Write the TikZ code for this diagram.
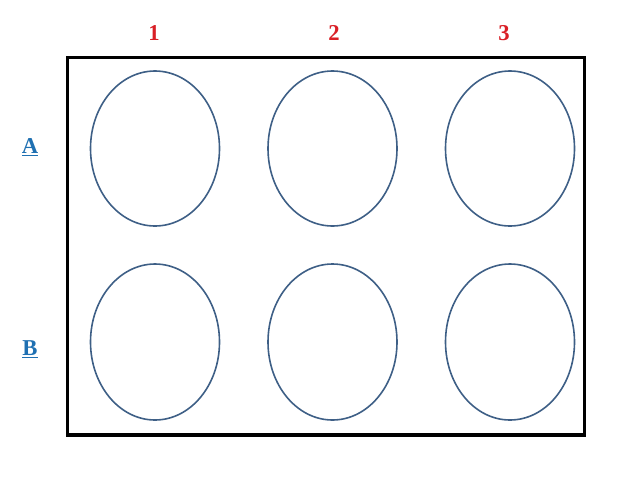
\documentclass[tikz,border=0pt]{standalone}
\usepackage{fontspec}
\setmainfont{Liberation Serif}
\definecolor{wellblue}{HTML}{3E5F86}
\definecolor{rowblue}{HTML}{1F70B2}
\definecolor{colred}{HTML}{D91F26}
\begin{document}
		\begin{tikzpicture}[x=0.75pt, y=-0.75pt]
				\useasboundingbox (0,0) rectangle (638,479);
				\draw[line width=2.6pt] (67.5,57.5) rectangle (584.5,435);
				\draw[wellblue, line width=1.2pt] (155,148.5) ellipse (64.5 and 77.5);
				\draw[wellblue, line width=1.2pt] (332.5,148.5) ellipse (64.5 and 77.5);
				\draw[wellblue, line width=1.2pt] (510,148.5) ellipse (64.5 and 77.5);
				\draw[wellblue, line width=1.2pt] (155,342) ellipse (64.5 and 78);
				\draw[wellblue, line width=1.2pt] (332.5,342) ellipse (64.5 and 78);
				\draw[wellblue, line width=1.2pt] (510,342) ellipse (64.5 and 78);
				\node[colred, font=\fontsize{17}{19}\selectfont\bfseries] (c1) at (154,33) {1};
				\node[colred, font=\fontsize{17}{19}\selectfont\bfseries] (c2) at (334,33) {2};
				\node[colred, font=\fontsize{17}{19}\selectfont\bfseries] (c3) at (504,33) {3};
				\node[rowblue, font=\fontsize{17}{19}\selectfont\bfseries] (rA) at (30,147) {\underline{A}};
				\node[rowblue, font=\fontsize{17}{19}\selectfont\bfseries] (rB) at (30,349) {\underline{B}};
		\end{tikzpicture}
\end{document}
